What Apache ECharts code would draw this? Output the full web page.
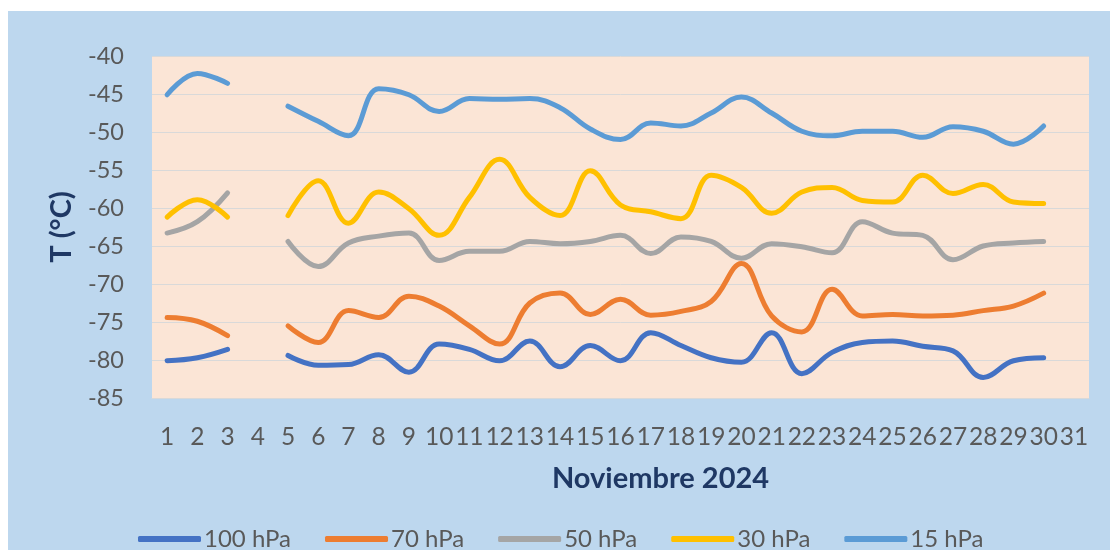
<!DOCTYPE html>
<html>
<head>
<meta charset="utf-8">
<script src="https://cdn.jsdelivr.net/npm/echarts@6/dist/echarts.min.js"></script>
<style>
  html, body { margin: 0; padding: 0; background: #ffffff; }
  #frame { position: absolute; left: 8px; top: 11px; width: 1102px; height: 539px; background: #BDD7EE; }
  #chart { position: absolute; left: 0; top: 0; width: 1116px; height: 550px; }
</style>
</head>
<body>
<div id="frame"></div>
<div id="chart"></div>
<script>
// Days of November 2024
const days = ['1','2','3','4','5','6','7','8','9','10','11','12','13','14','15','16',
  '17','18','19','20','21','22','23','24','25','26','27','28','29','30','31'];

// Daily temperature (°C) per pressure level; null = no sounding
const t100 = [-80.1, -79.7, -78.6, null, -79.4, -80.7, -80.6, -79.3, -81.6, -77.9, -78.6, -80.1, -77.5, -80.9, -78.1, -80.1,
  -76.4, -78.1, -79.7, -80.3, -76.4, -81.8, -79.0, -77.7, -77.5, -78.2, -78.8, -82.3, -80.1, -79.7, null];
const t70 = [-74.4, -74.9, -76.8, null, -75.5, -77.7, -73.5, -74.4, -71.6, -72.9, -75.5, -77.9, -72.5, -71.2, -74.0, -72.0,
  -74.1, -73.6, -72.3, -67.3, -74.2, -76.3, -70.7, -74.2, -74.0, -74.2, -74.1, -73.5, -72.9, -71.2, null];
const t50 = [-63.3, -61.8, -58.0, null, -64.4, -67.7, -64.6, -63.7, -63.3, -66.9, -65.7, -65.7, -64.4, -64.7, -64.4, -63.6,
  -66.0, -63.8, -64.4, -66.6, -64.7, -65.1, -65.9, -61.8, -63.3, -63.6, -66.8, -65.0, -64.6, -64.4, null];
const t30 = [-61.2, -58.9, -61.2, null, -61.0, -56.4, -62.0, -57.9, -60.1, -63.6, -58.6, -53.6, -58.6, -61.0, -55.1, -59.6,
  -60.5, -61.4, -55.7, -57.3, -60.7, -57.9, -57.3, -59.0, -59.2, -55.7, -58.1, -56.9, -59.2, -59.4, null];
const t15 = [-45.1, -42.3, -43.6, null, -46.6, -48.6, -50.5, -44.3, -45.1, -47.3, -45.6, -45.7, -45.6, -46.8, -49.6, -51.0,
  -48.8, -49.2, -47.5, -45.4, -47.5, -49.9, -50.5, -49.9, -49.9, -50.7, -49.3, -49.9, -51.6, -49.2, null];

const levels = [
  { name: '100 hPa', data: t100, color: '#4472C4' },
  { name: '70 hPa',  data: t70,  color: '#ED7D31' },
  { name: '50 hPa',  data: t50,  color: '#A5A5A5' },
  { name: '30 hPa',  data: t30,  color: '#FFC000' },
  { name: '15 hPa',  data: t15,  color: '#5B9BD5' }
];

const FONT = 'Lato';
const chart = echarts.init(document.getElementById('chart'), null, { renderer: 'canvas' });

chart.setOption({
  backgroundColor: 'transparent',
  animation: false,
  textStyle: { fontFamily: FONT },
  grid: {
    left: 152, right: 27, top: 56, bottom: 152,
    show: true, backgroundColor: '#FBE5D6', borderWidth: 0
  },
  legend: {
    left: 133, top: 522,
    itemWidth: 63, itemHeight: 6, itemGap: 34,
    icon: 'roundRect',
    textStyle: { color: '#595959', fontSize: 24, fontFamily: FONT, padding: [0, 0, 0, -2] },
    data: levels.map(l => l.name)
  },
  xAxis: {
    type: 'category',
    data: days,
    boundaryGap: true,
    name: 'Noviembre 2024',
    nameLocation: 'middle',
    nameGap: 66,
    nameTextStyle: { color: '#1F3864', fontSize: 29, fontWeight: 'bold', fontFamily: FONT, padding: [0, 0, 0, 80] },
    axisLine: { show: true, lineStyle: { color: '#D9D9D9' } },
    axisTick: { show: false },
    axisLabel: { interval: 0, color: '#595959', fontSize: 24.5, margin: 27, fontFamily: FONT }
  },
  yAxis: {
    type: 'value',
    min: -85, max: -40, interval: 5,
    name: 'T (°C)',
    nameLocation: 'middle',
    nameGap: 76,
    nameTextStyle: { color: '#1F3864', fontSize: 29, fontWeight: 'bold', fontFamily: FONT },
    axisLine: { show: false },
    axisTick: { show: false },
    axisLabel: { color: '#595959', fontSize: 23.5, margin: 28, fontFamily: FONT },
    splitLine: { lineStyle: { color: '#D9D9D9', width: 1 } }
  },
  series: levels.map(l => ({
    name: l.name,
    type: 'line',
    data: l.data,
    smooth: 0.4,
    connectNulls: false,
    symbol: 'none',
    color: l.color,
    lineStyle: { color: l.color, width: 5, cap: 'round', join: 'round' }
  }))
});
</script>
</body>
</html>
